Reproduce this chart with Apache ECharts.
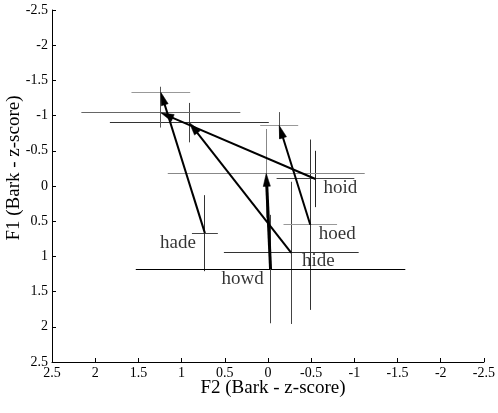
<!DOCTYPE html>
<html>
<head>
<meta charset="utf-8">
<script src="https://cdn.jsdelivr.net/npm/echarts@6/dist/echarts.min.js"></script>
<style>
html,body{margin:0;padding:0;background:#fff;}
#chart{width:498px;height:413px;}
</style>
</head>
<body>
<div id="chart"></div>
<script>
// ---- data ----
const diphthongs = ['hade', 'hide', 'hoid', 'hoed', 'howd'];
const startF2 = [0.73, -0.27, -0.55, -0.49, -0.03];
const startF1 = [0.67, 0.95, -0.10, 0.55, 1.18];
const endF2 = [1.24, 0.91, 1.24, -0.13, 0.02];
const endF1 = [-1.33, -0.90, -1.04, -0.86, -0.18];
const startF2sd = [0.15, 0.78, 0.45, 0.31, 1.56];
const startF1sd = [0.54, 1.01, 0.40, 1.21, 0.77];
const endF2sd = [0.34, 0.92, 0.92, 0.22, 1.14];
const endF1sd = [0.08, 0.28, 0.21, 0.19, 0.63];
const axisTicks = [-2.5, -2, -1.5, -1, -0.5, 0, 0.5, 1, 1.5, 2, 2.5];

// ---- styles (not data) ----
const startBarColors = [['#444', '#333'], ['#333', '#444'], ['#444', '#222'], ['#999', '#333'], ['#000', '#444']];
const endBarColors = [['#999', '#555'], ['#333', '#444'], ['#666', '#555'], ['#999', '#555'], ['#888', '#888']];
const arrowWidths = [2, 2, 2, 2, 3];
const labelOffsets = [[-27, 10], [27, 8], [25, 9], [27, 9], [-28, 10]];

const FONT = '"Liberation Serif", "DejaVu Serif", serif';

const crossData = [];
diphthongs.forEach((d, i) => {
  crossData.push([startF2[i], startF1[i], startF2sd[i], startF1sd[i], i, 0]);
  crossData.push([endF2[i], endF1[i], endF2sd[i], endF1sd[i], i, 1]);
});
const arrowData = diphthongs.map((d, i) => [startF2[i], startF1[i], endF2[i], endF1[i], i]);
const labelData = diphthongs.map((d, i) => ({ name: d, value: [startF2[i], startF1[i]],
  label: { offset: labelOffsets[i] } }));

const crisp = v => Math.round(v - 0.5) + 0.5;

const chart = echarts.init(document.getElementById('chart'), null, { renderer: 'canvas' });
chart.setOption({
  animation: false,
  backgroundColor: '#fff',
  grid: { left: 52, right: 10, top: 10, bottom: 51 },
  xAxis: {
    type: 'value', inverse: true, min: -2.5, max: 2.5, interval: 0.5,
    axisLine: { show: true, onZero: false, lineStyle: { color: '#000', width: 1 } },
    axisTick: { show: true, inside: true, length: 4, lineStyle: { color: '#000' } },
    splitLine: { show: false },
    axisLabel: { color: '#000', fontFamily: FONT, fontSize: 14, margin: 4,
      formatter: v => String(v) }
  },
  yAxis: {
    type: 'value', inverse: true, min: -2.5, max: 2.5, interval: 0.5,
    axisLine: { show: true, onZero: false, lineStyle: { color: '#000', width: 1 } },
    axisTick: { show: true, inside: true, length: 4, lineStyle: { color: '#000' } },
    splitLine: { show: false },
    axisLabel: { color: '#000', fontFamily: FONT, fontSize: 14, margin: 4,
      formatter: v => String(v) }
  },
  graphic: [
    { type: 'text', x: 273, y: 388, style: { text: 'F2 (Bark - z-score)', font: '19px ' + FONT,
      fill: '#000', textAlign: 'center', textVerticalAlign: 'middle' } },
    { type: 'text', x: 14, y: 168, rotation: Math.PI / 2, style: { text: 'F1 (Bark - z-score)',
      font: '19px ' + FONT, fill: '#000', textAlign: 'center', textVerticalAlign: 'middle' } }
  ],
  series: [
    {
      type: 'custom', data: crossData, z: 2,
      renderItem: function (params, api) {
        const x = api.value(0), y = api.value(1), sx = api.value(2), sy = api.value(3);
        const i = api.value(4), which = api.value(5);
        const cols = which === 0 ? startBarColors[i] : endBarColors[i];
        const l = api.coord([x - sx, y]), r = api.coord([x + sx, y]);
        const t = api.coord([x, y - sy]), b = api.coord([x, y + sy]);
        const hy = crisp(l[1]), vx = crisp(t[0]);
        return { type: 'group', children: [
          { type: 'line', shape: { x1: l[0], y1: hy, x2: r[0], y2: hy }, style: { stroke: cols[0], lineWidth: 1 } },
          { type: 'line', shape: { x1: vx, y1: t[1], x2: vx, y2: b[1] }, style: { stroke: cols[1], lineWidth: 1 } }
        ] };
      }
    },
    {
      type: 'custom', data: arrowData, z: 3,
      renderItem: function (params, api) {
        const i = api.value(4);
        const p1 = api.coord([api.value(0), api.value(1)]);
        const p2 = api.coord([api.value(2), api.value(3)]);
        const dx = p2[0] - p1[0], dy = p2[1] - p1[1];
        const len = Math.sqrt(dx * dx + dy * dy);
        const ux = dx / len, uy = dy / len;
        const L = 13, W = 3.6;
        const bx = p2[0] - ux * L, by = p2[1] - uy * L;
        return { type: 'group', children: [
          { type: 'line', shape: { x1: p1[0], y1: p1[1], x2: bx + ux * 2, y2: by + uy * 2 },
            style: { stroke: '#000', lineWidth: arrowWidths[i] } },
          { type: 'polygon', shape: { points: [[p2[0], p2[1]], [bx - uy * W, by + ux * W], [bx + uy * W, by - ux * W]] },
            style: { fill: '#000', stroke: '#000', lineWidth: 0.5 } }
        ] };
      }
    },
    {
      type: 'scatter', data: labelData, symbolSize: 0, z: 4,
      label: { show: true, position: 'inside', formatter: p => p.name, color: '#000',
        fontFamily: FONT, fontSize: 19, align: 'center', verticalAlign: 'middle' }
    }
  ]
});
</script>
</body>
</html>
